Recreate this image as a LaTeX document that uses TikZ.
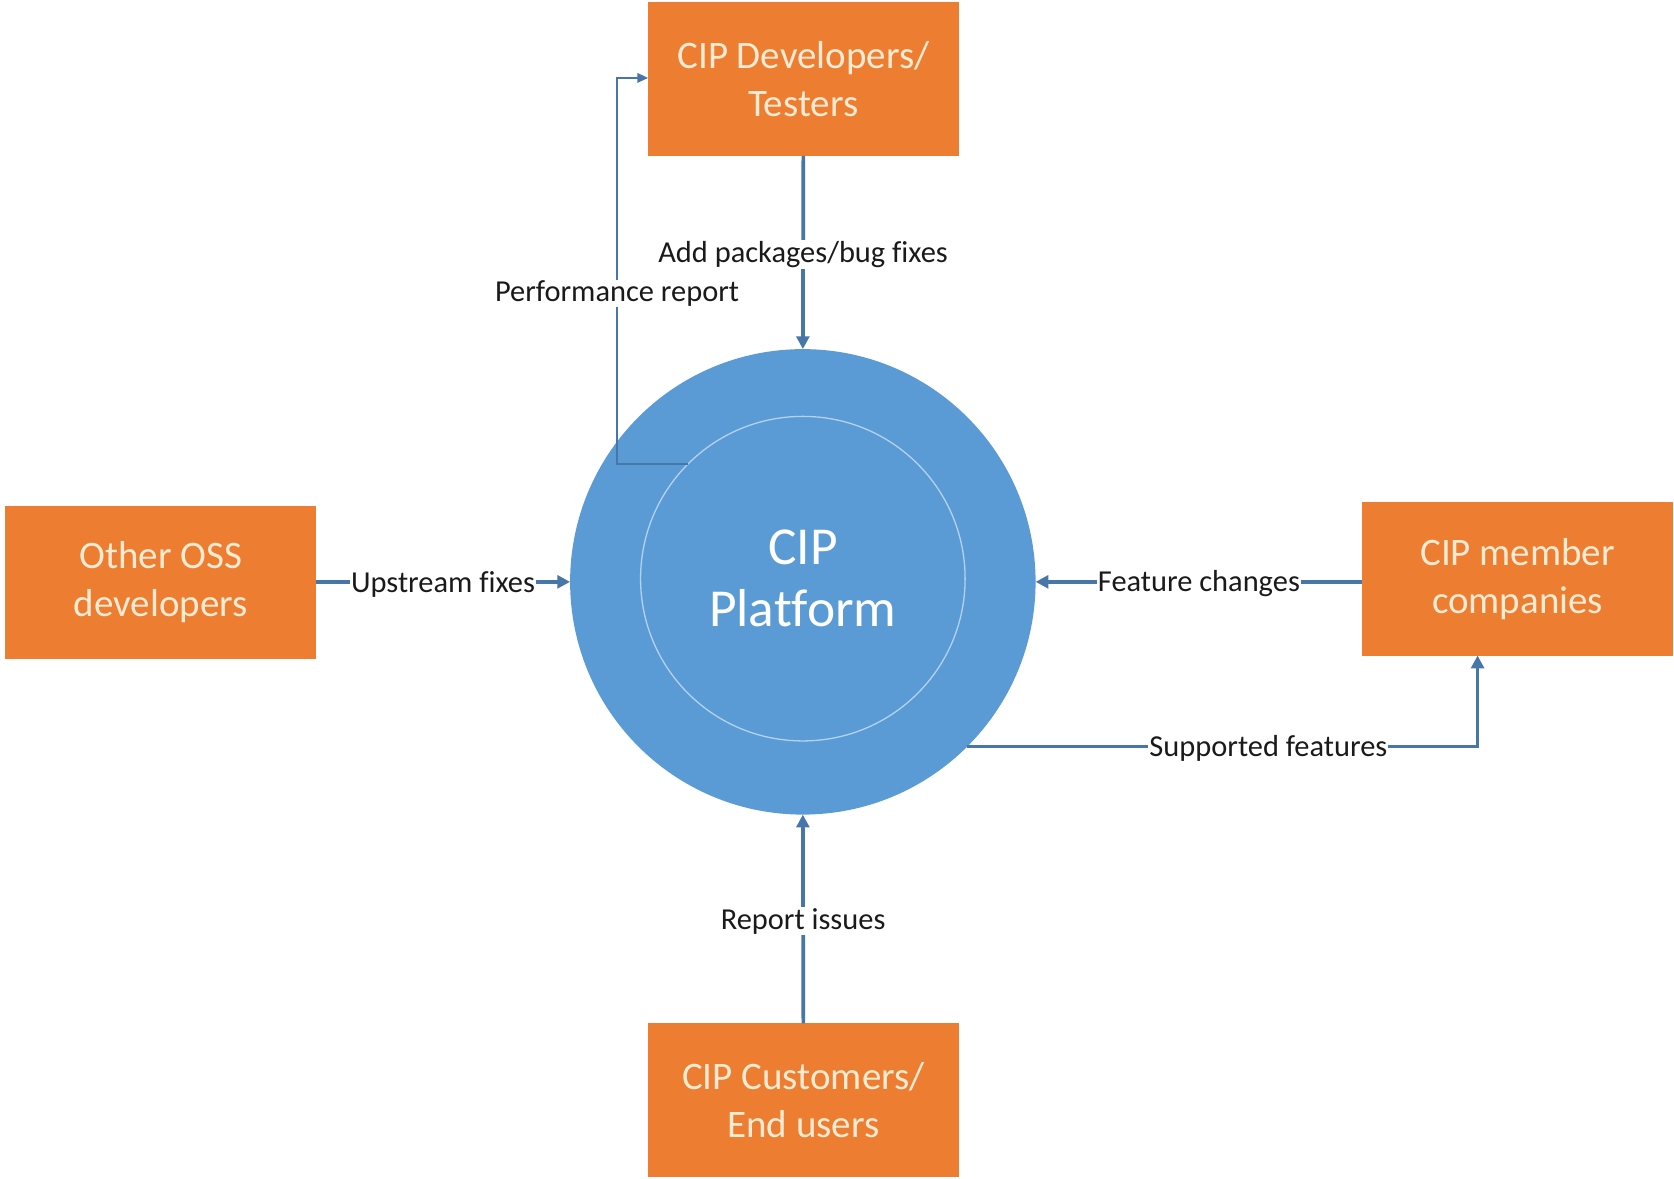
\documentclass[tikz,border=0pt]{standalone}
\usepackage{fontspec}
\setmainfont{Carlito}[Ligatures=NoCommon]
\usetikzlibrary{arrows.meta,calc}
\definecolor{boxorange}{HTML}{ED7D31}
\definecolor{boxtext}{HTML}{FDEBD3}
\definecolor{platblue}{HTML}{5B9BD5}
\definecolor{connblue}{HTML}{4677A8}
\definecolor{labeltext}{HTML}{1A1A1A}
\tikzset{
  actor/.style={fill=boxorange, draw=none, minimum width=291pt, minimum height=144pt,
    text=boxtext, align=center, inner sep=0pt, outer sep=0pt,
    font=\fontsize{36.5pt}{45pt}\selectfont},
  conn/.style={draw=connblue, line width=3.5pt, -{Triangle[length=12pt,width=12pt]}},
  thinconn/.style={draw=connblue, line width=1.6pt, -{Triangle[length=10pt,width=9pt]}},
  lbl/.style={fill=white, text=labeltext, inner sep=1pt, yshift=-2pt, font=\fontsize{28.5pt}{32pt}\selectfont}
}
\begin{document}
\begin{tikzpicture}[x=1pt,y=-1pt]
\useasboundingbox (0,0) rectangle (1568,1104);
% platform circle
\node[circle, fill=platblue, minimum size=436pt, inner sep=0pt, outer sep=0pt] (plat) at (752,545) {};
\node[circle, draw=white!55!platblue, line width=1.2pt, minimum size=304pt, inner sep=0pt, outer sep=0pt] (inner) at (752,542) {};
\node[text=white, align=center, font=\fontsize{50pt}{58pt}\selectfont] (plattext) at (752,542) {CIP\\Platform};
% actors
\node[actor] (dev) at (752.5,74) {CIP Developers/\\Testers};
\node[actor] (oss) at (150.5,545.5) {Other OSS\\developers};
\node[actor] (mem) at (1421.5,542) {CIP member\\companies};
\node[actor] (cust) at (752.5,1030.5) {CIP Customers/\\End users};
% helper coordinates
\coordinate (pr1) at (578,435);
\coordinate (pr2) at (578,73);
\coordinate (sf1) at (1384,700);
% connectors
\draw[conn] (dev.south) -- node[lbl] {Add packages/bug fixes} (plat.north);
\draw[conn] (oss.east |- plat.west) -- node[lbl] {Upstream fixes} (plat.west);
\draw[conn] (mem.west |- plat.east) -- node[lbl, pos=0.5] {Feature changes} (plat.east);
\draw[conn] (cust.north) -- node[lbl] {Report issues} (plat.south);
\draw[conn] (plat.-45) -- node[lbl, pos=0.59] {Supported features} (plat.-45 -| sf1) -- (sf1 |- mem.south);
\draw[thinconn] (inner.135) -- (pr1 |- inner.135) -- node[lbl, pos=0.447] {Performance report} (pr2) -- (dev.west |- pr2);
\end{tikzpicture}
\end{document}
